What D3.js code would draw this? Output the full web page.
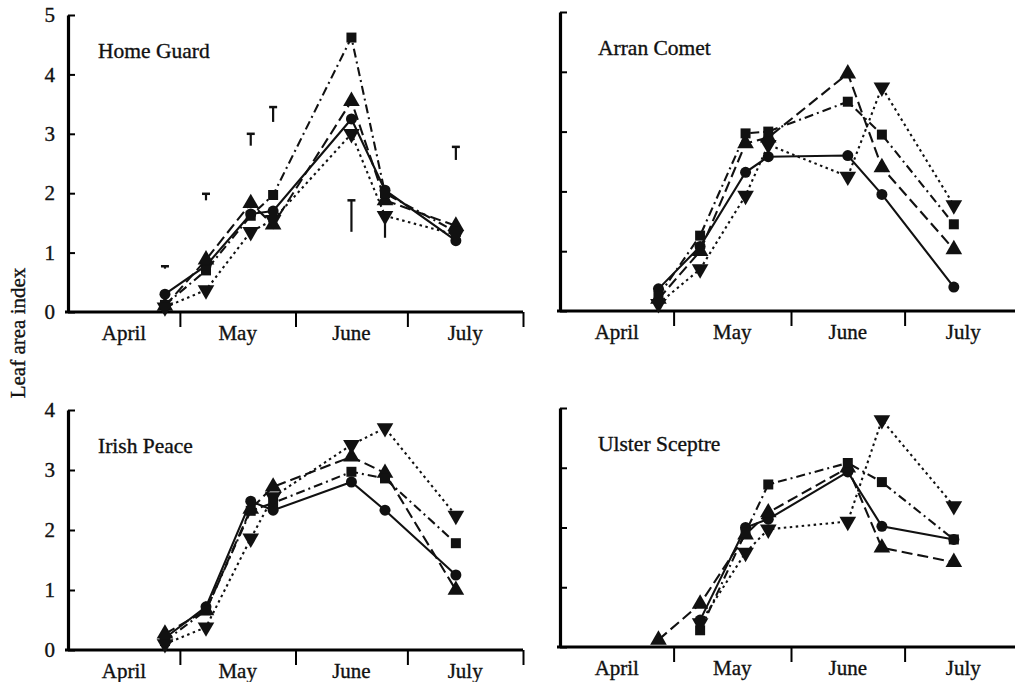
<!DOCTYPE html>
<html>
<head>
<meta charset="utf-8">
<script src="https://cdn.jsdelivr.net/npm/d3@7"></script>
<style>
  body { margin: 0; background: #fff; }
  text { font-family: "Liberation Serif", "DejaVu Serif", serif; fill: #111; stroke: #111; stroke-width: 0.35px; }
</style>
</head>
<body>
<div class="chart"></div>
<script>
// sampling dates (harvests)
var sampleDates = ["1975-04-27", "1975-05-08", "1975-05-20", "1975-05-26", "1975-06-16", "1975-06-25", "1975-07-14"];
var monthNames = ["April", "May", "June", "July"];

// Home Guard
var homeGuardCircle = [0.3, 0.78, 1.65, 1.7, 3.25, 2.05, 1.2];
var homeGuardTriUp = [0.1, 0.88, 1.83, 1.47, 3.55, 1.88, 1.45];
var homeGuardSquare = [0.12, 0.7, 1.62, 1.97, 4.62, 2.0, 1.35];
var homeGuardTriDown = [0.08, 0.37, 1.35, 1.55, 3.0, 1.62, 1.3];
// error bars (Home Guard only)
var homeGuardErrTop = [0.77, 1.99, 3.0, 3.45, 1.88, 1.62, 2.78];
var homeGuardErrBottom = [0.73, 1.88, 2.8, 3.2, 1.35, 1.25, 2.56];

// Arran Comet
var arranCircle = [0.37, 1.08, 2.32, 2.58, 2.6, 1.95, 0.4];
var arranTriUp = [0.2, 1.0, 2.8, 2.9, 3.97, 2.4, 1.03];
var arranSquare = [0.25, 1.26, 2.97, 3.0, 3.5, 2.95, 1.45];
var arranTriDown = [0.12, 0.7, 1.93, 2.78, 2.25, 3.74, 1.77];

// Irish Peace
var irishCircle = [0.2, 0.72, 2.48, 2.33, 2.8, 2.33, 1.25];
var irishTriUp = [0.27, 0.66, 2.35, 2.72, 3.22, 2.95, 1.0];
var irishSquare = [0.15, 0.66, 2.32, 2.45, 2.97, 2.86, 1.78];
var irishTriDown = [0.1, 0.38, 1.86, 2.55, 3.42, 3.7, 2.24];

// Ulster Sceptre
var ulsterCircle = [null, 0.45, 2.0, 2.14, 2.93, 2.02, 1.8];
var ulsterTriUp = [0.12, 0.72, 1.88, 2.25, 3.0, 1.66, 1.42];
var ulsterSquare = [null, 0.28, 1.92, 2.72, 3.08, 2.76, 1.8];
var ulsterTriDown = [null, 0.4, 1.58, 1.97, 2.1, 3.8, 2.36];

var parseDate = d3.timeParse("%Y-%m-%d");
var dates = sampleDates.map(parseDate);

var svgWidth = 1015;
var svgHeight = 682;

var svg = d3.select(".chart")
  .append("svg")
  .attr("width", svgWidth)
  .attr("height", svgHeight);

// line styles for the four series
var styles = {
  circle: { dash: null, symbol: d3.symbolCircle, size: 95, rot: 0 },
  triUp: { dash: "11,5", symbol: d3.symbolTriangle, size: 120, rot: 0 },
  square: { dash: "9,4,2,4", symbol: d3.symbolSquare, size: 100, rot: 0 },
  triDown: { dash: "2.5,3.5", symbol: d3.symbolTriangle, size: 120, rot: 180 }
};

var panels = [
  { name: "Home Guard", left: 68, width: 455, bottom: 312, top: 15, ymax: 5, labels: true,
    series: { circle: homeGuardCircle, triUp: homeGuardTriUp, square: homeGuardSquare, triDown: homeGuardTriDown },
    errTop: homeGuardErrTop, errBottom: homeGuardErrBottom },
  { name: "Arran Comet", left: 560, width: 462, bottom: 311, top: 12, ymax: 5, labels: false,
    series: { circle: arranCircle, triUp: arranTriUp, square: arranSquare, triDown: arranTriDown } },
  { name: "Irish Peace", left: 68, width: 455, bottom: 650, top: 410, ymax: 4, labels: true,
    series: { circle: irishCircle, triUp: irishTriUp, square: irishSquare, triDown: irishTriDown } },
  { name: "Ulster Sceptre", left: 560, width: 462, bottom: 647, top: 408, ymax: 4, labels: false,
    series: { circle: ulsterCircle, triUp: ulsterTriUp, square: ulsterSquare, triDown: ulsterTriDown } }
];

var monthStarts = [parseDate("1975-04-01"), parseDate("1975-05-01"), parseDate("1975-06-01"), parseDate("1975-07-01"), parseDate("1975-08-01")];

panels.forEach(function(p) {
  var g = svg.append("g").attr("transform", `translate(${p.left}, 0)`);

  var xScale = d3.scaleTime()
    .domain([monthStarts[0], monthStarts[4]])
    .range([0, p.width]);

  var yScale = d3.scaleLinear()
    .domain([0, p.ymax])
    .range([p.bottom, p.top]);

  // x axis: month boundaries as downward ticks
  var xAxis = d3.axisBottom(xScale)
    .tickValues(monthStarts.slice(1))
    .tickFormat("")
    .tickSize(15)
    .tickSizeOuter(0);

  var xg = g.append("g")
    .attr("transform", `translate(0, ${p.bottom})`)
    .call(xAxis);
  xg.select(".domain").attr("stroke-width", 3.2).attr("d", `M-3,0H${p.width}`);
  xg.selectAll(".tick line").attr("stroke-width", 2);

  // month names centred in each month
  g.selectAll(".month")
    .data(monthNames)
    .enter()
    .append("text")
    .attr("class", "month")
    .attr("x", (d, i) => (xScale(monthStarts[i]) + xScale(monthStarts[i + 1])) / 2)
    .attr("y", p.bottom + 28)
    .attr("text-anchor", "middle")
    .style("font-size", "21px")
    .text(d => d);

  // y axis with inward ticks
  var yAxis = d3.axisLeft(yScale)
    .ticks(p.ymax)
    .tickSize(-7)
    .tickSizeOuter(0)
    .tickPadding(13)
    .tickFormat(p.labels ? d3.format("d") : "");

  var yg = g.append("g").call(yAxis);
  yg.select(".domain").attr("stroke-width", 3.2);
  yg.selectAll(".tick line").attr("stroke-width", 2);
  yg.selectAll(".tick text")
    .style("font-size", "21px")
    .attr("fill", "#111")
    .style("font-family", "'Liberation Serif', serif");

  // panel title
  g.append("text")
    .attr("x", p.left === 68 ? 30 : 38)
    .attr("y", p.top + 43)
    .style("font-size", "21.5px")
    .text(p.name);

  // series lines and markers
  Object.keys(styles).forEach(function(key) {
    var st = styles[key];
    var pts = [];
    p.series[key].forEach(function(v, i) {
      if (v !== null) pts.push({ date: dates[i], value: v });
    });

    var line = d3.line()
      .x(d => xScale(d.date))
      .y(d => yScale(d.value));

    g.append("path")
      .datum(pts)
      .attr("fill", "none")
      .attr("stroke", "#111")
      .attr("stroke-width", 2.1)
      .attr("stroke-dasharray", st.dash)
      .attr("d", line);

    g.selectAll(".mk-" + key)
      .data(pts)
      .enter()
      .append("path")
      .attr("class", "mk-" + key)
      .attr("d", d3.symbol().type(st.symbol).size(st.size))
      .attr("transform", d => `translate(${xScale(d.date)}, ${yScale(d.value)}) rotate(${st.rot})`)
      .attr("fill", "#111");
  });

  // error bars drawn as T marks
  if (p.errTop) {
    var errs = p.errTop.map((t, i) => ({ date: dates[i], top: t, bottom: p.errBottom[i] }));
    var eb = g.selectAll(".err")
      .data(errs)
      .enter()
      .append("g")
      .attr("class", "err");
    eb.append("line")
      .attr("x1", d => xScale(d.date))
      .attr("x2", d => xScale(d.date))
      .attr("y1", d => yScale(d.top))
      .attr("y2", d => yScale(d.bottom))
      .attr("stroke", "#111")
      .attr("stroke-width", 2.2);
    eb.append("line")
      .attr("x1", d => xScale(d.date) - 4)
      .attr("x2", d => xScale(d.date) + 4)
      .attr("y1", d => yScale(d.top))
      .attr("y2", d => yScale(d.top))
      .attr("stroke", "#111")
      .attr("stroke-width", 2.5);
  }
});

// shared y label
svg.append("text")
  .attr("transform", "rotate(-90)")
  .attr("x", -333)
  .attr("y", 25)
  .attr("text-anchor", "middle")
  .style("font-size", "21px")
  .text("Leaf area index");
</script>
</body>
</html>
